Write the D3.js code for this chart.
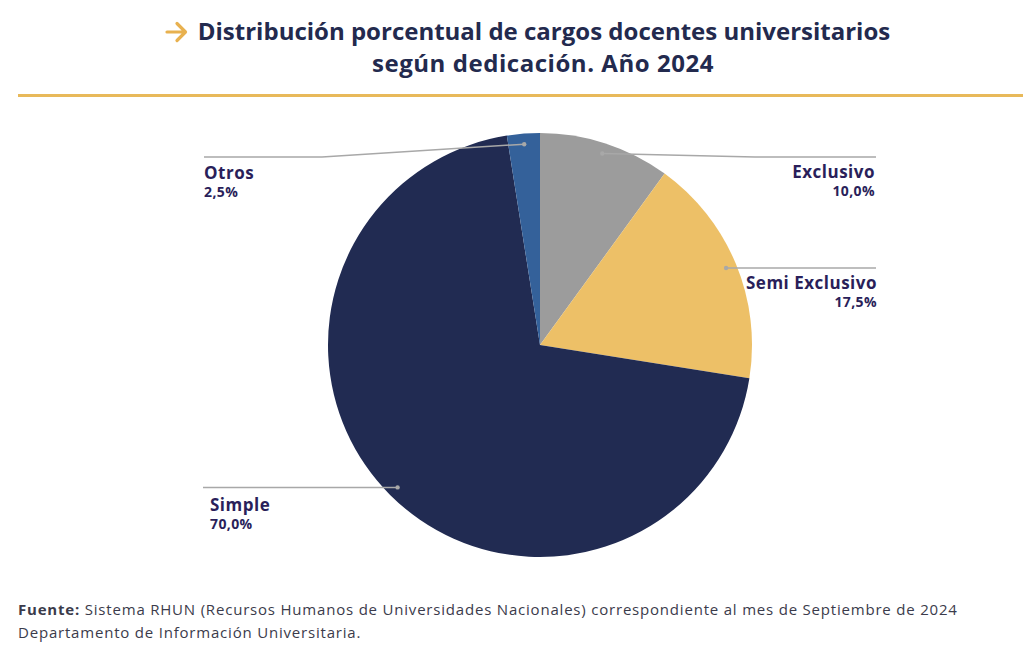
<!DOCTYPE html>
<html>
<head>
<meta charset="utf-8">
<script src="https://cdn.jsdelivr.net/npm/d3@7"></script>
<style>
  body { margin: 0; background: #fff; }
  svg { display: block; font-family: "Open Sans", Lato, sans-serif; }
</style>
</head>
<body>
<div id="chart"></div>
<script>
const categories = ["Exclusivo", "Semi Exclusivo", "Simple", "Otros"]
const values = [10.0, 17.5, 70.0, 2.5]
const colors = ["#9c9c9c", "#edc067", "#212b52", "#34619a"]

const width = 1023, height = 653
const cx = 540, cy = 345, radius = 212

const svg = d3.select("#chart").append("svg")
  .attr("width", width)
  .attr("height", height)

// title arrow
svg.append("path")
   .attr("d", "M167,32 L185,32 M177,23.5 L185.5,32 L177,40.5")
   .attr("fill", "none").attr("stroke", "#e8b14f").attr("stroke-width", 3.2)
   .attr("stroke-linecap", "round").attr("stroke-linejoin", "round")
const title = svg.append("text").attr("text-anchor", "middle")
   .attr("font-size", 24).attr("font-weight", 700).attr("fill", "#232a4e")
title.append("tspan").attr("x", 544).attr("y", 40)
   .text("Distribución porcentual de cargos docentes universitarios")
title.append("tspan").attr("x", 543).attr("y", 72).attr("letter-spacing", 0.55)
   .text("según dedicación. Año 2024")
svg.append("rect").attr("x", 18).attr("y", 94).attr("width", width - 18).attr("height", 3)
   .attr("fill", "#e8b95a")

const data = categories.map((c, i) => ({ name: c, value: values[i], color: colors[i] }))
const pie = d3.pie().value(d => d.value).sort(null)
const arcs = pie(data)
const arc = d3.arc().innerRadius(0).outerRadius(radius)
const dotArc = d3.arc().innerRadius(radius * 0.95).outerRadius(radius * 0.95)

const g = svg.append("g").attr("transform", `translate(${cx},${cy})`)
g.selectAll("path").data(arcs).join("path")
  .attr("d", arc)
  .attr("fill", d => d.data.color)

// label layout: elbow point and end of the leader line (relative to centre)
const labelPos = {
  "Exclusivo":      { elbow: [215, -188], end: [336, -188], anchor: "end",   tx: 335, ty: -167 },
  "Semi Exclusivo": { elbow: null,        end: [336, -78],  anchor: "end",   tx: 337, ty: -57 },
  "Simple":         { elbow: null,        end: [-337, 142], anchor: "start", tx: -330, ty: 166 },
  "Otros":          { elbow: [-218, -188], end: [-336, -188], anchor: "start", tx: -336, ty: -166 }
}

arcs.forEach(d => {
  const p = labelPos[d.data.name]
  const c = dotArc.centroid(d)
  const pts = [c]
  if (p.elbow) pts.push(p.elbow)
  else pts.push([p.end[0], c[1]])
  if (p.elbow) pts.push(p.end)
  g.append("path")
    .attr("d", d3.line()(pts))
    .attr("fill", "none")
    .attr("stroke", "#a8a8a8")
    .attr("stroke-width", 1.5)
  g.append("circle").attr("cx", c[0]).attr("cy", c[1]).attr("r", 2.2).attr("fill", "#a8a8a8")
  const ty = p.elbow ? p.ty : c[1] + (p.ty - p.end[1])
  const t = g.append("text").attr("text-anchor", p.anchor).attr("fill", "#2a1f5a").attr("font-weight", 700)
  t.append("tspan").attr("x", p.tx).attr("y", ty).attr("font-size", 17).attr("letter-spacing", 0.5).text(d.data.name)
  t.append("tspan").attr("x", p.tx).attr("y", ty + 18).attr("font-size", 14).attr("letter-spacing", 0.4)
    .text(d3.format(".1f")(d.data.value).replace(".", ",") + "%")
})

// footer
const f1 = svg.append("text").attr("x", 18).attr("y", 615).attr("font-size", 15)
   .attr("letter-spacing", 0.8).attr("fill", "#3b3b4b")
f1.append("tspan").attr("font-weight", 700).text("Fuente:")
f1.append("tspan").text(" Sistema RHUN (Recursos Humanos de Universidades Nacionales) correspondiente al mes de Septiembre de 2024")
svg.append("text").attr("x", 18).attr("y", 638).attr("font-size", 15)
   .attr("letter-spacing", 0.8).attr("fill", "#3b3b4b")
   .text("Departamento de Información Universitaria.")
</script>
</body>
</html>
